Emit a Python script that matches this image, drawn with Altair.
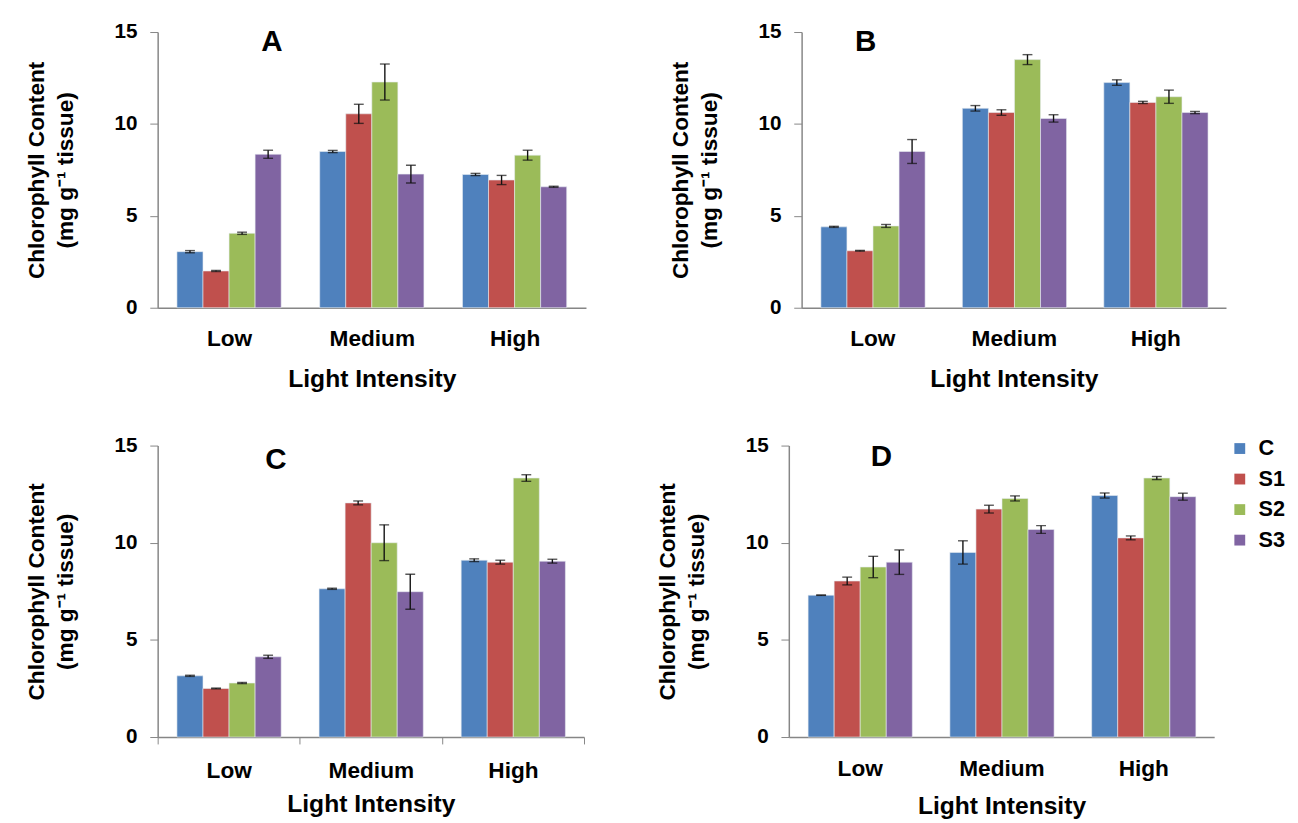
import altair as alt
import pandas as pd

levels = ["Low", "Medium", "High"]
treatments = ["C", "S1", "S2", "S3"]
colors = ["#4F81BD", "#C0504D", "#9BBB59", "#8064A2"]
y_ticks = [0, 5, 10, 15]

# Panel A (means and errors per treatment, ordered Low, Medium, High)
A_mean = {"C": [3.05, 8.50, 7.25], "S1": [2.00, 10.55, 6.95], "S2": [4.05, 12.28, 8.30], "S3": [8.35, 7.27, 6.58]}
A_err = {"C": [0.06, 0.06, 0.06], "S1": [0.03, 0.52, 0.25], "S2": [0.06, 0.98, 0.27], "S3": [0.22, 0.48, 0.03]}
# Panel B
B_mean = {"C": [4.40, 10.85, 12.25], "S1": [3.10, 10.62, 11.17], "S2": [4.45, 13.50, 11.48], "S3": [8.50, 10.30, 10.62]}
B_err = {"C": [0.03, 0.15, 0.15], "S1": [0.02, 0.15, 0.06], "S2": [0.08, 0.27, 0.36], "S3": [0.65, 0.20, 0.06]}
# Panel C
C_mean = {"C": [3.15, 7.63, 9.10], "S1": [2.50, 12.05, 9.00], "S2": [2.78, 10.00, 13.33], "S3": [4.13, 7.48, 9.05]}
C_err = {"C": [0.03, 0.03, 0.07], "S1": [0.02, 0.10, 0.10], "S2": [0.03, 0.92, 0.17], "S3": [0.08, 0.90, 0.10]}
# Panel D
D_mean = {"C": [7.30, 9.50, 12.43], "S1": [8.03, 11.73, 10.25], "S2": [8.75, 12.28, 13.33], "S3": [9.00, 10.68, 12.37]}
D_err = {"C": [0.01, 0.60, 0.13], "S1": [0.20, 0.20, 0.10], "S2": [0.55, 0.13, 0.08], "S3": [0.63, 0.20, 0.18]}

FONT = "Liberation Sans"
YSCALE = alt.Scale(domain=[0, 15], nice=False, zero=True)


def make_df(means, errs):
    rows = []
    for t in treatments:
        for lvl, m, e in zip(levels, means[t], errs[t]):
            rows.append({"Light": lvl, "Treatment": t, "value": m, "lo": m - e, "hi": m + e})
    return pd.DataFrame(rows)


def panel(letter, means, errs, width, height, letter_pos, x_ticks, x_label_pad,
          x_title_pad, left_extent=None, legend=None):
    df = make_df(means, errs)
    x_axis = alt.Axis(labelAngle=0, ticks=x_ticks, tickSize=7 if x_ticks else 0,
                      tickBand="extent", tickColor="#868686", domainColor="#868686",
                      domainWidth=1.5, labelFont=FONT, labelFontSize=23, labelFontWeight="bold",
                      labelColor="black", labelPadding=x_label_pad, titleFont=FONT,
                      titleFontSize=25, titleFontWeight="bold", titleColor="black",
                      titlePadding=x_title_pad)
    y_axis = alt.Axis(values=y_ticks, grid=False, domainColor="#868686", domainWidth=1.5,
                      tickColor="#868686", tickSize=8, labelFont=FONT, labelFontSize=21,
                      labelFontWeight="bold", labelColor="black", labelPadding=13,
                      titleFont=FONT, titleFontSize=23, titleFontWeight="bold",
                      titleColor="black", titlePadding=37, titleLineHeight=30)
    x = alt.X("Light:N", sort=levels, scale=alt.Scale(paddingInner=0, paddingOuter=0),
              axis=x_axis, title="Light Intensity")
    xo = alt.XOffset("Treatment:N", sort=treatments,
                     scale=alt.Scale(paddingInner=0, paddingOuter=0.74))
    y = alt.Y("value:Q", scale=YSCALE, axis=y_axis,
              title=["Chlorophyll Content", "(mg g⁻¹ tissue)"])
    color = alt.Color("Treatment:N", sort=treatments,
                      scale=alt.Scale(domain=treatments, range=colors), legend=legend)
    base = alt.Chart(df)
    bars = base.mark_bar(stroke="#e8ecf2", strokeWidth=0.6).encode(x=x, xOffset=xo, y=y, color=color)
    xe = alt.X("Light:N", sort=levels)
    rules = base.mark_rule(color="#111111", strokeWidth=1.4).encode(
        x=xe, xOffset=xo, y=alt.Y("lo:Q", scale=YSCALE), y2="hi:Q")
    cap_lo = base.mark_tick(color="#111111", thickness=1.4, size=10).encode(
        x=xe, xOffset=xo, y=alt.Y("lo:Q", scale=YSCALE))
    cap_hi = base.mark_tick(color="#111111", thickness=1.4, size=10).encode(
        x=xe, xOffset=xo, y=alt.Y("hi:Q", scale=YSCALE))
    lab = alt.Chart(pd.DataFrame({"t": [letter]})).mark_text(
        font=FONT, fontSize=30, fontWeight="bold", color="black",
        align="center", baseline="middle").encode(
        text="t:N", x=alt.value(letter_pos[0]), y=alt.value(letter_pos[1]))
    layers = [bars, rules, cap_lo, cap_hi, lab]
    if left_extent is not None:
        # invisible (white) glyph that widens the panel's left margin
        spacer = alt.Chart(pd.DataFrame({"t": ["."]})).mark_text(
            color="white", fontSize=10, align="left", baseline="middle").encode(
            text="t:N", x=alt.value(-left_extent), y=alt.value(height / 2))
        layers.append(spacer)
    return alt.layer(*layers).properties(width=width, height=height)


legend_d = alt.Legend(orient="none", legendX=447, legendY=-8, title=None,
                      symbolType="square", symbolSize=121, symbolStrokeWidth=0,
                      labelFont=FONT, labelFontSize=22, labelFontWeight="bold",
                      labelColor="black", labelOffset=8, rowPadding=9)

pA = panel("A", A_mean, A_err, 435, 280, (116, 10), False, 20, 17)
pB = panel("B", B_mean, B_err, 431, 280, (65, 10), False, 20, 17)
pC = panel("C", C_mean, C_err, 433, 296, (120, 15), True, 16, 10, left_extent=147)
pD = panel("D", D_mean, D_err, 432, 296, (94, 12), False, 21, 14, legend=legend_d)

top = alt.hconcat(pA, pB, spacing=84).resolve_legend(color="independent")
bottom = alt.hconcat(pC, pD, spacing=72).resolve_legend(color="independent")

chart = alt.vconcat(top, bottom, spacing=44).resolve_legend(color="independent").properties(
    padding={"left": 5, "top": 7, "right": 5, "bottom": 5}
).configure_view(stroke=None)

chart.save("out.html", embed_options={"renderer": "svg", "actions": False})
